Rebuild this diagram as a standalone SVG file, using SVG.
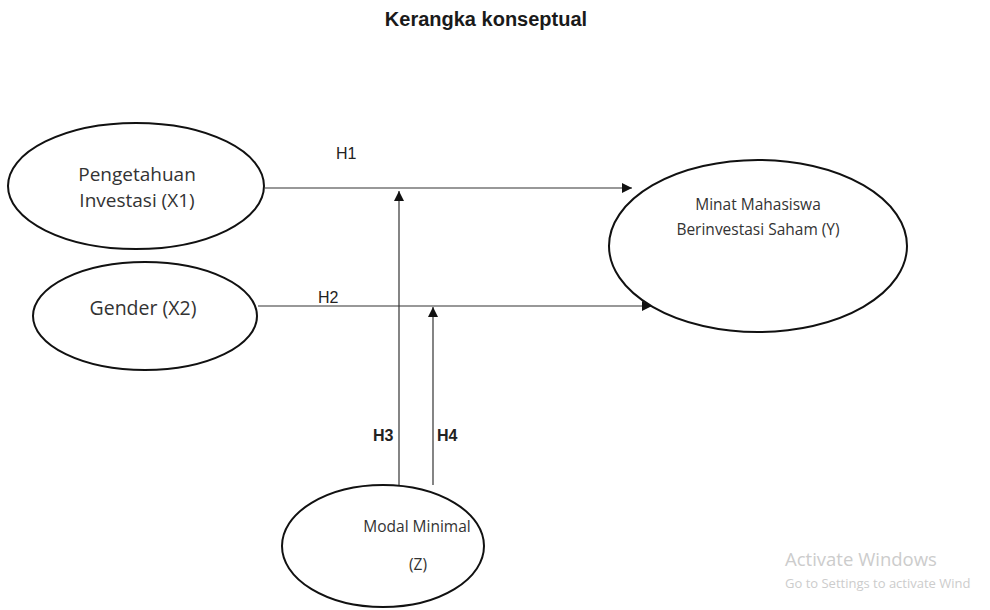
<svg xmlns="http://www.w3.org/2000/svg" width="990" height="610" viewBox="0 0 990 610">
<style>
.node{fill:#fff;stroke:#111;stroke-width:2}
.lbl{font-family:"Open Sans","Liberation Sans",sans-serif;fill:#333;text-anchor:middle}
.edge{stroke:#333;stroke-width:1.2;fill:none;marker-end:url(#arr)}
.h{font-family:"Liberation Sans",Arial,sans-serif;fill:#222;font-size:16px}
.wm{font-family:"Open Sans","Liberation Sans",sans-serif;fill:#cccccc}
</style>
<defs>
<marker id="arr" viewBox="0 0 10 10" refX="10" refY="5" markerWidth="10" markerHeight="10" markerUnits="userSpaceOnUse" orient="auto">
<path d="M0,0 L10,5 L0,10 z" fill="#111"/>
</marker>
</defs>
<rect width="990" height="610" fill="#fff"/>
<text x="486" y="26" font-family="Liberation Sans,Arial,sans-serif" font-weight="bold" font-size="20" fill="#1a1a1a" text-anchor="middle">Kerangka konseptual</text>
<g id="connectors">
<line class="edge" x1="265" y1="188" x2="632" y2="188"/>
<line class="edge" x1="258" y1="306" x2="652" y2="306"/>
<line class="edge" x1="399" y1="485" x2="399" y2="191"/>
<line class="edge" x1="433" y1="485" x2="433" y2="307"/>
<text class="h" x="336" y="159">H1</text>
<text class="h" x="318" y="303">H2</text>
<text class="h" x="373" y="441" font-size="17" font-weight="bold">H3</text>
<text class="h" x="437" y="441" font-size="17" font-weight="bold">H4</text>
</g>
<g id="x1">
<ellipse class="node" cx="136" cy="186" rx="128" ry="63"/>
<text class="lbl" x="137" y="181" font-size="19">Pengetahuan</text>
<text class="lbl" x="137" y="207" font-size="19">Investasi (X1)</text>
</g>
<g id="x2">
<ellipse class="node" cx="145" cy="316" rx="112" ry="54"/>
<text class="lbl" x="143" y="315" font-size="19.5">Gender (X2)</text>
</g>
<g id="y">
<ellipse class="node" cx="758" cy="246" rx="149" ry="86"/>
<text class="lbl" x="758" y="210" font-size="15.5">Minat Mahasiswa</text>
<text class="lbl" x="758" y="235" font-size="15.5">Berinvestasi Saham (Y)</text>
</g>
<g id="z">
<ellipse class="node" cx="383" cy="546" rx="101" ry="61"/>
<text class="lbl" x="417" y="532" font-size="15.5">Modal Minimal</text>
<text class="lbl" x="418" y="570" font-size="15.5">(Z)</text>
</g>
<text class="wm" x="785" y="566" font-size="18.5">Activate Windows</text>
<text class="wm" x="785" y="588" font-size="13">Go to Settings to activate Wind</text>
</svg>
